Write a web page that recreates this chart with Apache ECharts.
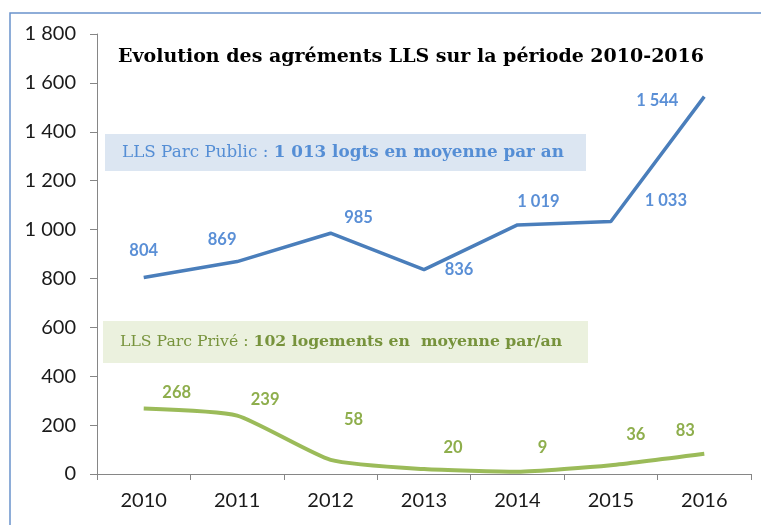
<!DOCTYPE html>
<html><head><meta charset="utf-8">
<script src="https://cdn.jsdelivr.net/npm/echarts@6/dist/echarts.min.js"></script>
<style>html,body{margin:0;padding:0;background:#fff}#c{width:761px;height:525px}</style>
</head><body><div id="c"></div>
<script>
var years = ['2010','2011','2012','2013','2014','2015','2016'];
var publicValues = [804, 869, 985, 836, 1019, 1033, 1544];
var priveValues = [268, 239, 58, 20, 9, 36, 83];
var yTicks = {min: 0, max: 1800, interval: 200};
var titleText = 'Evolution des agréments LLS sur la période 2010-2016';
var publicNote = ['LLS Parc Public : ', '1 013 logts en moyenne par an'];
var priveNote = ['LLS Parc Privé : ', '102 logements en  moyenne par/an'];

// label offsets (style only)
var publicOffsets = [[0,-27],[-15,-22],[28,-16],[35,0],[21,-23],[55,-21],[-47,4]];
var priveOffsets = [[33,-16],[28,-16],[23,-40],[29,-21],[25,-24],[25,-31],[-19,-23]];

function fmt(v){ var s = String(v); return s.length > 3 ? s.slice(0, s.length-3) + ' ' + s.slice(-3) : s; }

var chart = echarts.init(document.getElementById('c'));
var blue = '#4a7ebb', green = '#9bbb59';
chart.setOption({
  backgroundColor: '#fff',
  animation: false,
  grid: {left: 97, right: 10, top: 34, bottom: 51},
  xAxis: {
    type: 'category', data: years, boundaryGap: true,
    axisLine: {lineStyle: {color: '#868686', width: 1}},
    axisTick: {show: true, length: 6, lineStyle: {color: '#868686'}},
    axisLabel: {color: '#1a1a1a', fontFamily: 'Lato', fontSize: 20, margin: 17}
  },
  yAxis: {
    type: 'value', min: yTicks.min, max: yTicks.max, interval: yTicks.interval,
    axisLine: {show: true, lineStyle: {color: '#868686', width: 1}},
    axisTick: {show: true, length: 7, lineStyle: {color: '#868686'}},
    splitLine: {show: false},
    axisLabel: {color: '#1a1a1a', fontFamily: 'Lato', fontSize: 20, margin: 21, formatter: function(v){ return fmt(v); }}
  },
  series: [
    {
      type: 'line', data: publicValues.map(function(v,i){ return {value: v, label: {offset: publicOffsets[i]}}; }),
      symbol: 'circle', symbolSize: 0.01, showSymbol: true, lineStyle: {color: blue, width: 3.5}, itemStyle: {color: blue},
      label: {show: true, position: 'inside', formatter: function(p){ return fmt(p.value); },
        color: '#5a8fd6', fontFamily: 'Lato', fontWeight: 'bold', fontSize: 16.5}
    },
    {
      type: 'line', smooth: 0.18, data: priveValues.map(function(v,i){ return {value: v, label: {offset: priveOffsets[i]}}; }),
      symbol: 'circle', symbolSize: 0.01, showSymbol: true, lineStyle: {color: green, width: 4}, itemStyle: {color: green},
      label: {show: true, position: 'inside', formatter: function(p){ return fmt(p.value); },
        color: '#8eae4c', fontFamily: 'Lato', fontWeight: 'bold', fontSize: 16.5}
    }
  ],
  graphic: [
    {type: 'polyline', shape: {points: [[10,525],[10,13],[761,13]]}, style: {stroke: '#6a93cc', lineWidth: 1.5, fill: null}, z: 10},
    {type: 'text', style: {text: titleText, x: 411, y: 57, align: 'center', verticalAlign: 'middle', font: 'bold 19px "DejaVu Serif"', fill: '#000'}},
    {type: 'rect', shape: {x: 105, y: 134, width: 481, height: 37}, style: {fill: '#dce6f2'}, z: 5},
    {type: 'text', z: 6, style: {x: 122, y: 153, verticalAlign: 'middle',
      text: '{a|' + publicNote[0] + '}{b|' + publicNote[1] + '}',
      rich: {a: {fontFamily: 'DejaVu Serif', fontSize: 16.8, fill: '#558ed5', color: '#558ed5'},
             b: {fontFamily: 'DejaVu Serif', fontWeight: 'bold', fontSize: 16.8, fill: '#558ed5', color: '#558ed5'}}}},
    {type: 'rect', shape: {x: 103, y: 321, width: 485, height: 42}, style: {fill: '#ebf1de'}, z: 5},
    {type: 'text', z: 6, style: {x: 120, y: 342, verticalAlign: 'middle',
      text: '{a|' + priveNote[0] + '}{b|' + priveNote[1] + '}',
      rich: {a: {fontFamily: 'DejaVu Serif', fontSize: 15.7, fill: '#77933c', color: '#77933c'},
             b: {fontFamily: 'DejaVu Serif', fontWeight: 'bold', fontSize: 15.7, fill: '#77933c', color: '#77933c'}}}}
  ]
});
</script></body></html>
